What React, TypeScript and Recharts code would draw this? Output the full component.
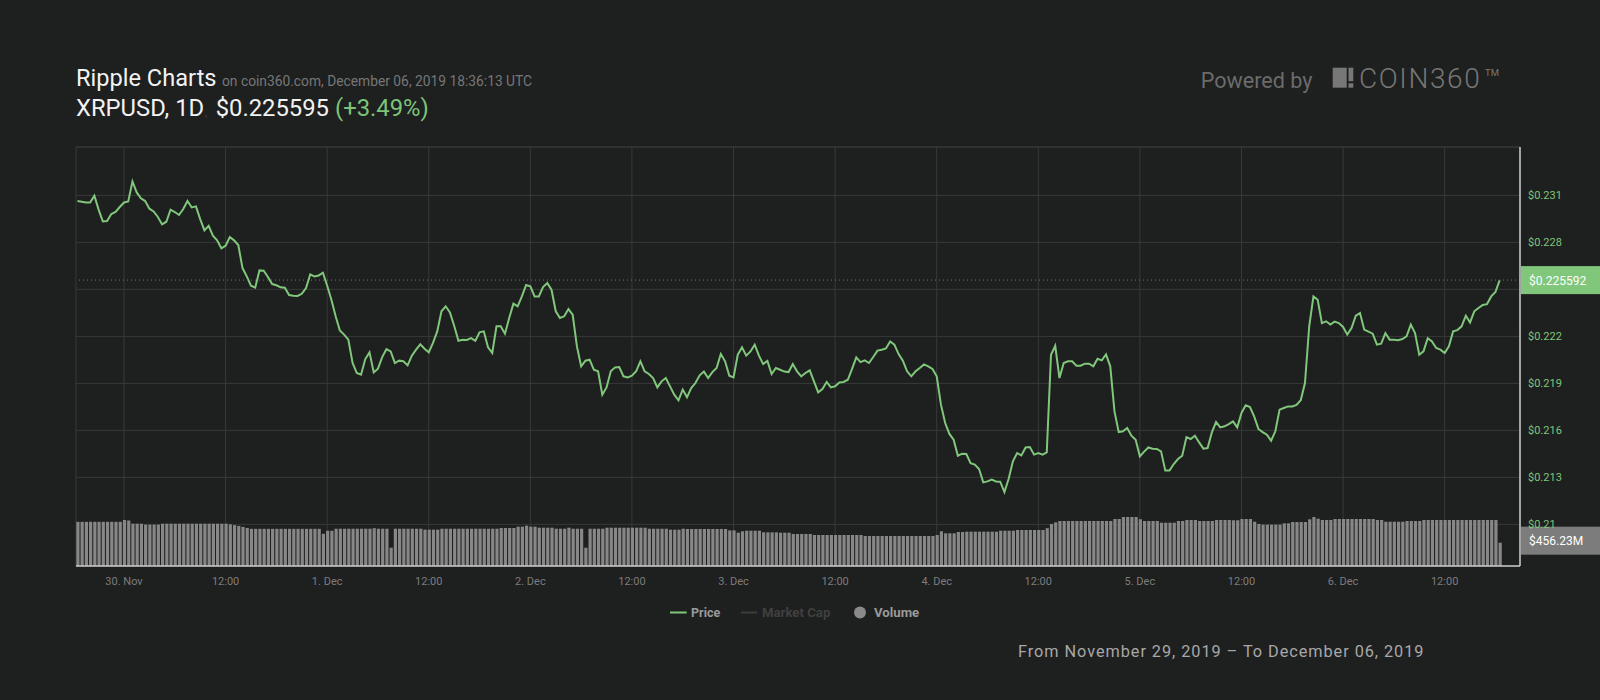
import React from 'react';
import { ComposedChart, Line, Bar, XAxis, YAxis, CartesianGrid, ReferenceLine } from 'recharts';

// Price (USD) every 30 minutes from 29 Nov 2019 18:30 UTC
const prices: number[] = [
  0.23064, 0.23060, 0.23055, 0.23055, 0.23098, 0.23009, 0.22934, 0.22936, 0.22981, 0.22994,
  0.23026, 0.23055, 0.23062, 0.23189, 0.23119, 0.23081, 0.23064, 0.23015, 0.22998, 0.22962,
  0.22915, 0.22932, 0.23009, 0.22994, 0.22975, 0.23013, 0.23064, 0.23023, 0.23030, 0.22949,
  0.22877, 0.22906, 0.22843, 0.22813, 0.22762, 0.22779, 0.22834, 0.22813, 0.22783, 0.22636,
  0.22583, 0.22523, 0.22511, 0.22621, 0.22619, 0.22579, 0.22534, 0.22526, 0.22513, 0.22511,
  0.22464, 0.22460, 0.22458, 0.22472, 0.22509, 0.22596, 0.22583, 0.22589, 0.22606, 0.22523,
  0.22434, 0.22328, 0.22238, 0.22211, 0.22179, 0.22030, 0.21966, 0.21955, 0.22055, 0.22098,
  0.21970, 0.21994, 0.22068, 0.22119, 0.22104, 0.22030, 0.22045, 0.22041, 0.22015, 0.22077,
  0.22115, 0.22149, 0.22121, 0.22098, 0.22158, 0.22232, 0.22360, 0.22392, 0.22353, 0.22268,
  0.22172, 0.22179, 0.22177, 0.22189, 0.22172, 0.22226, 0.22232, 0.22130, 0.22094, 0.22264,
  0.22264, 0.22217, 0.22317, 0.22409, 0.22392, 0.22455, 0.22528, 0.22519, 0.22455, 0.22455,
  0.22515, 0.22540, 0.22498, 0.22360, 0.22317, 0.22328, 0.22374, 0.22338, 0.22136, 0.22009,
  0.22045, 0.22051, 0.21987, 0.21977, 0.21828, 0.21874, 0.21977, 0.22002, 0.22004, 0.21945,
  0.21938, 0.21949, 0.21977, 0.22041, 0.21977, 0.21960, 0.21934, 0.21874, 0.21913, 0.21934,
  0.21881, 0.21828, 0.21792, 0.21860, 0.21811, 0.21870, 0.21902, 0.21951, 0.21975, 0.21934,
  0.21972, 0.21998, 0.22087, 0.22041, 0.21949, 0.21938, 0.22083, 0.22130, 0.22077, 0.22104,
  0.22147, 0.22077, 0.22023, 0.22043, 0.21960, 0.21998, 0.21987, 0.21975, 0.21972, 0.22023,
  0.21977, 0.21945, 0.21966, 0.21983, 0.21913, 0.21843, 0.21864, 0.21909, 0.21874, 0.21881,
  0.21906, 0.21909, 0.21923, 0.21992, 0.22066, 0.22036, 0.22047, 0.22030, 0.22068, 0.22109,
  0.22115, 0.22123, 0.22168, 0.22147, 0.22087, 0.22045, 0.21977, 0.21945, 0.21977, 0.21998,
  0.22021, 0.22009, 0.21992, 0.21945, 0.21764, 0.21647, 0.21577, 0.21540, 0.21438, 0.21451,
  0.21449, 0.21391, 0.21381, 0.21353, 0.21268, 0.21274, 0.21285, 0.21274, 0.21272, 0.21206,
  0.21291, 0.21402, 0.21455, 0.21440, 0.21491, 0.21494, 0.21445, 0.21455, 0.21445, 0.21460,
  0.22083, 0.22140, 0.21934, 0.22030, 0.22041, 0.22041, 0.22013, 0.22013, 0.22026, 0.22026,
  0.22009, 0.22057, 0.22047, 0.22085, 0.22009, 0.21721, 0.21589, 0.21594, 0.21615, 0.21566,
  0.21540, 0.21434, 0.21464, 0.21491, 0.21483, 0.21481, 0.21466, 0.21343, 0.21343, 0.21385,
  0.21417, 0.21438, 0.21557, 0.21545, 0.21566, 0.21523, 0.21483, 0.21487, 0.21587, 0.21653,
  0.21619, 0.21626, 0.21640, 0.21657, 0.21619, 0.21711, 0.21760, 0.21749, 0.21689, 0.21609,
  0.21589, 0.21572, 0.21534, 0.21594, 0.21732, 0.21743, 0.21753, 0.21753, 0.21762, 0.21792,
  0.21902, 0.22264, 0.22455, 0.22434, 0.22285, 0.22296, 0.22275, 0.22294, 0.22285, 0.22260,
  0.22211, 0.22253, 0.22332, 0.22349, 0.22243, 0.22230, 0.22217, 0.22147, 0.22153, 0.22221,
  0.22179, 0.22179, 0.22175, 0.22183, 0.22200, 0.22275, 0.22221, 0.22083, 0.22104, 0.22189,
  0.22168, 0.22126, 0.22115, 0.22094, 0.22136, 0.22232, 0.22240, 0.22264, 0.22332, 0.22289,
  0.22360, 0.22381, 0.22400, 0.22406, 0.22455, 0.22483, 0.225592,
];

// Volume (million USD) per 30-minute slot
const volumes: number[] = [
  865, 865, 865, 865, 865, 865, 865, 865, 865, 865,
  865, 900, 890, 828, 828, 828, 810, 810, 810, 810,
  828, 828, 828, 828, 828, 828, 828, 828, 828, 828,
  828, 828, 828, 828, 828, 828, 815, 800, 785, 765,
  745, 728, 728, 728, 728, 728, 728, 728, 728, 728,
  728, 728, 728, 728, 728, 728, 728, 728, 630, 690,
  690, 730, 730, 730, 730, 730, 730, 730, 730, 730,
  740, 730, 730, 730, 358, 730, 730, 730, 730, 730,
  730, 730, 712, 712, 712, 712, 730, 730, 730, 730,
  730, 730, 730, 730, 730, 730, 730, 730, 730, 730,
  744, 744, 744, 744, 770, 770, 790, 770, 770, 750,
  750, 750, 750, 730, 730, 730, 750, 730, 730, 730,
  358, 730, 730, 730, 730, 750, 750, 750, 750, 750,
  750, 750, 750, 750, 750, 730, 730, 730, 730, 730,
  711, 711, 711, 730, 725, 725, 725, 725, 725, 725,
  725, 725, 725, 725, 697, 697, 652, 680, 691, 691,
  691, 691, 659, 659, 659, 659, 652, 652, 652, 627,
  627, 627, 627, 627, 607, 607, 607, 607, 607, 607,
  607, 607, 607, 607, 607, 607, 587, 587, 587, 587,
  587, 587, 587, 587, 587, 587, 587, 587, 587, 587,
  587, 587, 587, 607, 680, 640, 640, 640, 665, 665,
  672, 672, 672, 672, 672, 672, 672, 672, 691, 691,
  691, 691, 705, 705, 705, 705, 705, 705, 705, 740,
  822, 855, 881, 881, 881, 881, 881, 881, 881, 881,
  881, 881, 881, 881, 881, 920, 920, 959, 959, 959,
  959, 915, 881, 881, 881, 881, 848, 848, 848, 848,
  881, 881, 900, 900, 900, 881, 881, 881, 881, 900,
  900, 900, 900, 895, 895, 920, 920, 920, 867, 822,
  809, 809, 809, 809, 809, 835, 835, 861, 861, 861,
  861, 914, 959, 926, 900, 900, 900, 920, 920, 920,
  920, 920, 920, 920, 920, 920, 920, 900, 900, 867,
  867, 867, 867, 867, 881, 881, 881, 881, 900, 900,
  900, 900, 900, 900, 900, 900, 900, 900, 900, 900,
  900, 900, 900, 900, 900, 900, 456.23,
];

// hours since 29 Nov 18:30 UTC
const hours: number[] = prices.map((_, i) => i * 0.5);

const xTicks: number[] = [5.5, 17.5, 29.5, 41.5, 53.5, 65.5, 77.5, 89.5, 101.5, 113.5, 125.5, 137.5, 149.5, 161.5];
const xTickLabels: string[] = ['30. Nov', '12:00', '1. Dec', '12:00', '2. Dec', '12:00', '3. Dec', '12:00', '4. Dec', '12:00', '5. Dec', '12:00', '6. Dec', '12:00'];
const priceTicks: number[] = [0.21, 0.213, 0.216, 0.219, 0.222, 0.225, 0.228, 0.231];
const hiddenPriceTick = 0.225; // covered by the current-price tag
const priceDomain: [number, number] = [0.20734, 0.23409];
const volumeDomain: [number, number] = [0, 8200];
const xDomain: [number, number] = [-0.17, 170.4];

const data = prices.map((p, i) => ({ t: hours[i], price: p, volume: volumes[i] }));
const lastPrice = prices[prices.length - 1];
const lastVolume = volumes[volumes.length - 1];

const BG = '#1e1f1f';
const GRID = '#383939';
const AXIS = '#cdcdcd';
const GREEN = '#80c77c';
const FONT = 'Roboto, "Noto Sans", sans-serif';

const PriceTag = (props: any) => {
  const vb = props.viewBox || {};
  const x = (vb.x || 0) + (vb.width || 0);
  const y = vb.y || 0;
  return (
    <g>
      <rect x={x + 1} y={y - 14} width={82} height={28} fill={GREEN} />
      <text x={x + 9} y={y + 4.5} fill="#ffffff" fontSize={12} fontFamily={FONT}>
        ${lastPrice}
      </text>
    </g>
  );
};

const VolumeTag = (props: any) => {
  const vb = props.viewBox || {};
  const x = (vb.x || 0) + (vb.width || 0);
  const y = (vb.y || 0) - 2;
  return (
    <g>
      <rect x={x + 1} y={y - 14} width={82} height={28} fill="#7c7c7c" />
      <text x={x + 9} y={y + 4.5} fill="#ffffff" fontSize={12} fontFamily={FONT}>
        ${lastVolume}M
      </text>
    </g>
  );
};

export default function App() {
  return (
    <div style={{ position: 'absolute', left: 0, top: 0, width: 1600, height: 700, background: BG, overflow: 'hidden', fontFamily: FONT }}>
      <div style={{ position: 'absolute', left: 0, top: 0 }}>
        <ComposedChart width={1600} height={700} data={data} margin={{ top: 147, right: 0, bottom: 0, left: 76 }}>
          <CartesianGrid yAxisId="price" stroke={GRID} strokeWidth={1} />
          <XAxis
            dataKey="t"
            type="number"
            domain={xDomain}
            ticks={xTicks}
            tickFormatter={(v: number, i: number) => xTickLabels[i]}
            height={134}
            axisLine={{ stroke: AXIS, strokeWidth: 1.5 }}
            tickLine={false}
            tickMargin={5}
            tick={{ fill: '#7d7d7d', fontSize: 11, fontFamily: FONT }}
            allowDataOverflow
            interval={0}
          />
          <YAxis
            yAxisId="vol"
            orientation="left"
            width={0}
            domain={volumeDomain}
            tick={false}
            tickLine={false}
            axisLine={{ stroke: AXIS, strokeWidth: 1.5 }}
            allowDataOverflow
          />
          <YAxis
            yAxisId="price"
            orientation="right"
            width={80}
            domain={priceDomain}
            ticks={priceTicks}
            tickFormatter={(v: number) => (v === hiddenPriceTick ? '' : '$' + v)}
            tick={{ fill: '#7fc67b', fontSize: 11, fontFamily: FONT }}
            axisLine={{ stroke: AXIS, strokeWidth: 1.5 }}
            tickLine={false}
            allowDataOverflow
            interval={0}
          />
          <ReferenceLine yAxisId="price" y={priceDomain[1]} stroke={GRID} ifOverflow="extendDomain" />
          <Bar yAxisId="vol" dataKey="volume" fill="#878787" barSize={3.2} isAnimationActive={false} />
          <Line
            yAxisId="price"
            dataKey="price"
            type="linear"
            stroke={GREEN}
            strokeWidth={2}
            dot={false}
            activeDot={false}
            isAnimationActive={false}
          />
          <ReferenceLine yAxisId="price" y={lastPrice} stroke="#707070" strokeDasharray="1 3" label={PriceTag} />
          <ReferenceLine yAxisId="vol" y={lastVolume} stroke="none" strokeOpacity={0} label={VolumeTag} />
        </ComposedChart>
      </div>
      <svg width={1600} height={700} style={{ position: 'absolute', left: 0, top: 0, pointerEvents: 'none' }}>
        <g fontFamily={FONT}>
          <text x={76} y={86} fontSize={23.6} fill="#f2f2f2">Ripple Charts</text>
          <text x={222} y={86} fontSize={13.8} fill="#777777">on coin360.com, December 06, 2019 18:36:13 UTC</text>
          <text x={76} y={115.7} fontSize={23.8} fill="#f2f2f2">XRPUSD, 1D</text>
          <text x={205} y={115.7} fontSize={10} fill="#4a4a4a">,</text>
          <text x={215.7} y={115.7} fontSize={23.8} fill="#f2f2f2">$0.225595</text>
          <text x={335} y={115.7} fontSize={23.8} fill="#7cc47a">(+3.49%)</text>

          <text x={1200.7} y={87.7} fontSize={21.6} fill="#6b6b6b">Powered by</text>
          <rect x={1332.7} y={67.7} width={14} height={20} fill="#777777" />
          <rect x={1348.5} y={67.7} width={4.8} height={13.5} fill="#777777" />
          <rect x={1348.5} y={83.3} width={4.8} height={4.4} fill="#777777" />
          <text x={1359} y={87.7} fontSize={28} fontWeight={300} fill="#777777" letterSpacing={1.6}>COIN360</text>
          <text x={1485} y={76} fontSize={9.5} fill="#777777">TM</text>

          <line x1={670} x2={686.7} y1={612.5} y2={612.5} stroke={GREEN} strokeWidth={2} />
          <text x={691} y={617} fontSize={12.5} fontWeight={700} fill="#9a9a9a">Price</text>
          <line x1={741} x2={757} y1={612.5} y2={612.5} stroke="#3d3d3d" strokeWidth={2} />
          <text x={762} y={617} fontSize={13.2} fontWeight={700} fill="#404040">Market Cap</text>
          <circle cx={860} cy={612.5} r={6} fill="#8a8a8a" />
          <text x={874} y={617} fontSize={13.2} fontWeight={700} fill="#9a9a9a">Volume</text>

          <text x={1018} y={656.7} fontSize={16.3} fill="#a8a8a8" letterSpacing={0.95}>
            From November 29, 2019 – To December 06, 2019
          </text>
        </g>
      </svg>
    </div>
  );
}
